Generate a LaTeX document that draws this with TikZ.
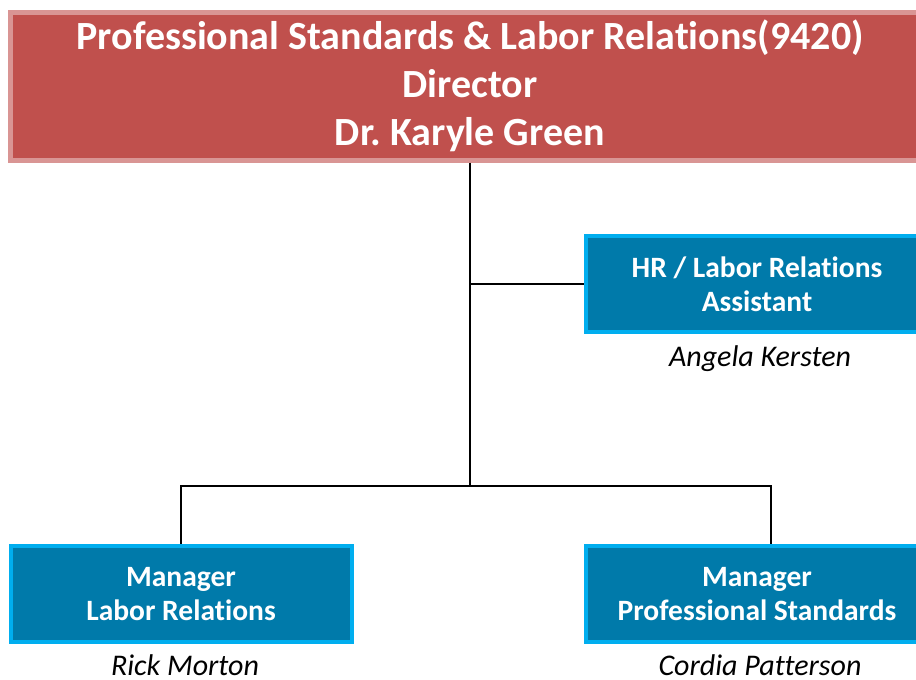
\documentclass[tikz,border=0pt]{standalone}
\usepackage{fontspec}
\setmainfont{Carlito}[Ligatures=NoCommon]
\usepackage{tikz}
\usetikzlibrary{positioning}
\definecolor{headred}{HTML}{C0504D}
\definecolor{headrim}{HTML}{D99594}
\definecolor{boxblue}{HTML}{007AAA}
\definecolor{boxrim}{HTML}{00AEEF}

\begin{document}
\begin{tikzpicture}[x=1pt,y=-1pt,
	headbox/.style={rectangle,draw=headrim,fill=headred,line width=5pt,text=white,align=center,
		minimum width=920pt,minimum height=148pt,inner sep=0pt,font=\bfseries\fontsize{40}{48}\selectfont},
	staffbox/.style={rectangle,draw=boxrim,fill=boxblue,line width=4pt,text=white,align=center,
		minimum height=96pt,inner sep=0pt,font=\bfseries\fontsize{29.5}{34}\selectfont},
	who/.style={font=\itshape\fontsize{30}{34}\selectfont,inner sep=0pt,anchor=base,text depth=0pt},
	link/.style={line width=1.6pt,black}]
	\useasboundingbox (0,0) rectangle (916,680);
	\path
	(470,86) node(dir) [headbox] {Professional Standards \& Labor Relations(9420)\\Director\\Dr.\ Karyle Green}
	(757,284) node(hr) [staffbox,minimum width=342pt] {HR / Labor Relations\\Assistant}
	(181,594) node(lr) [staffbox,minimum width=341pt] {Manager\\Labor Relations}
	(757,594) node(ps) [staffbox,minimum width=342pt] {Manager\\Professional Standards};
	\node[who] (hrname) at (760,366) {Angela Kersten};
	\node[who] (lrname) at (185,675) {Rick Morton};
	\node[who] (psname) at (760,675) {Cordia Patterson};
	\coordinate (split) at (470,486);
	\draw[link] (dir.south) -- (split);
	\draw[link] (hr.west -| dir.south) -- (hr.west);
	\draw[link] (lr.north) |- (split) -| ([xshift=14pt]ps.north);
\end{tikzpicture}
\end{document}
